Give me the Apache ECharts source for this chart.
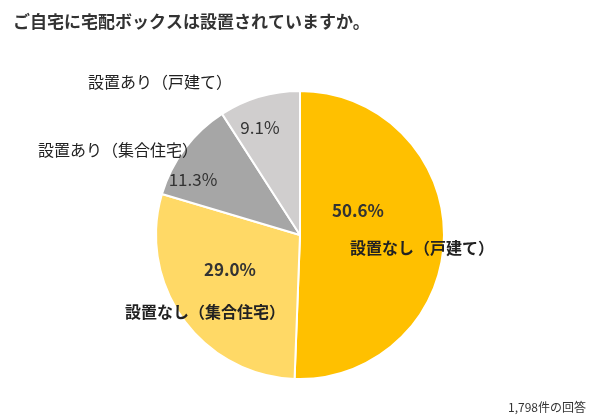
<!DOCTYPE html>
<html><head><meta charset="utf-8">
<script src="https://cdn.jsdelivr.net/npm/echarts@6/dist/echarts.min.js"></script>
<style>html,body{margin:0;background:#fff}#c{width:600px;height:419px}</style>
</head><body><div id="c"></div>
<script>
var categories = ['設置なし（戸建て）', '設置なし（集合住宅）', '設置あり（集合住宅）', '設置あり（戸建て）'];
var values = [50.6, 29.0, 11.3, 9.1];
var colors = ['#FFC000', '#FFD966', '#A6A6A6', '#D0CECE'];

// label placement (centre points, px)
var pctPos = [[358, 211], [230, 270], [193, 180], [260, 128]];
var namePos = [[422, 248], [205, 312], [118, 150], [160, 82]];
var nameBold = [true, true, false, false];

var chart = echarts.init(document.getElementById('c'));
var font = '"Noto Sans CJK JP", "Noto Sans", sans-serif';
var base = {
  type: 'pie', center: [300, 235], radius: 144, startAngle: 90, clockwise: true,
  animation: false, labelLine: { show: false }
};
var pieData = categories.map(function (n, i) {
  return { name: n, value: values[i], itemStyle: { color: colors[i] },
           label: { fontWeight: nameBold[i] ? 'bold' : 'normal' } };
});
var nameData = categories.map(function (n, i) {
  return { name: n, value: values[i], itemStyle: { color: 'rgba(0,0,0,0)' },
           label: { fontWeight: nameBold[i] ? 'bold' : 'normal' } };
});
chart.setOption({
  title: {
    text: 'ご自宅に宅配ボックスは設置されていますか。', left: 8, top: 8,
    textStyle: { fontFamily: font, fontSize: 17, fontWeight: 'bold', color: '#333' }
  },
  graphic: [{
    type: 'text', right: 14, bottom: 6,
    style: { text: '1,798件の回答', font: '12px ' + font, fill: '#333' }
  }],
  series: [
    Object.assign({}, base, {
      data: pieData,
      itemStyle: { borderColor: '#fff', borderWidth: 2 },
      label: {
        show: true, position: 'inside', fontFamily: font, fontSize: 17, color: '#333',
        formatter: function (p) { return p.value.toFixed(1) + '%'; }
      },
      labelLayout: function (p) {
        return { x: pctPos[p.dataIndex][0], y: pctPos[p.dataIndex][1], align: 'center', verticalAlign: 'middle' };
      }
    }),
    Object.assign({}, base, {
      data: nameData, silent: true, z: 5,
      label: {
        show: true, position: 'inside', fontFamily: font, fontSize: 16, color: '#222',
        formatter: function (p) { return p.name; }
      },
      labelLayout: function (p) {
        return { x: namePos[p.dataIndex][0], y: namePos[p.dataIndex][1], align: 'center', verticalAlign: 'middle' };
      }
    })
  ]
});
</script></body></html>
